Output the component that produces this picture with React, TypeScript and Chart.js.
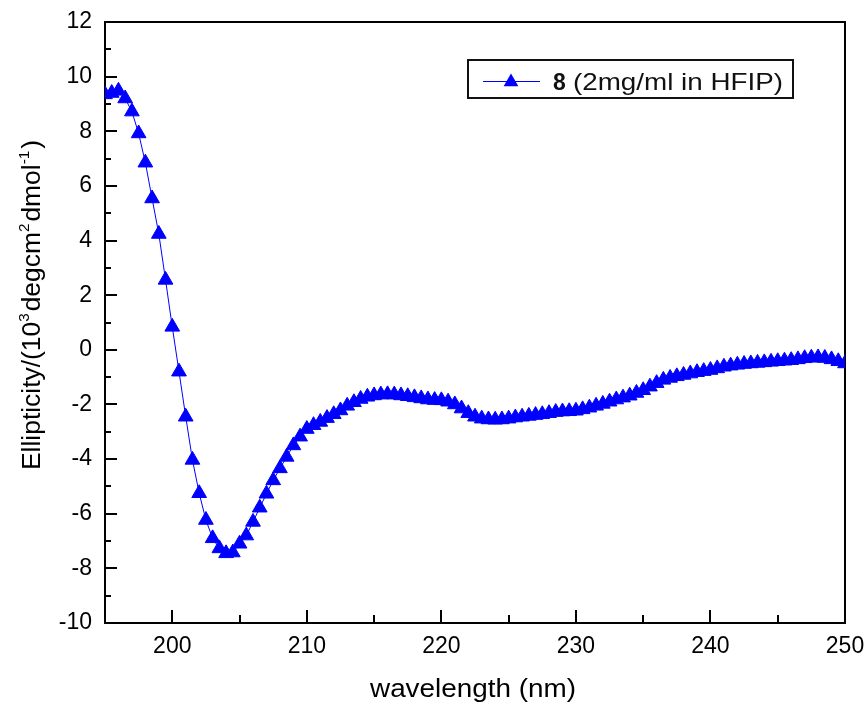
import React, { useEffect, useRef } from 'react';
import { Chart, registerables } from 'chart.js';

Chart.register(...registerables);

// ---------- data ----------
const wavelengths = [
  195, 195.5, 196, 196.5, 197, 197.5, 198, 198.5, 199, 199.5,
  200, 200.5, 201, 201.5, 202, 202.5, 203, 203.5, 204, 204.5,
  205, 205.5, 206, 206.5, 207, 207.5, 208, 208.5, 209, 209.5,
  210, 210.5, 211, 211.5, 212, 212.5, 213, 213.5, 214, 214.5,
  215, 215.5, 216, 216.5, 217, 217.5, 218, 218.5, 219, 219.5,
  220, 220.5, 221, 221.5, 222, 222.5, 223, 223.5, 224, 224.5,
  225, 225.5, 226, 226.5, 227, 227.5, 228, 228.5, 229, 229.5,
  230, 230.5, 231, 231.5, 232, 232.5, 233, 233.5, 234, 234.5,
  235, 235.5, 236, 236.5, 237, 237.5, 238, 238.5, 239, 239.5,
  240, 240.5, 241, 241.5, 242, 242.5, 243, 243.5, 244, 244.5,
  245, 245.5, 246, 246.5, 247, 247.5, 248, 248.5, 249, 249.5,
  250,
];

const ellipticity = [
  9.35, 9.40, 9.48, 9.20, 8.72, 7.92, 6.85, 5.54, 4.24, 2.56,
  0.84, -0.80, -2.45, -4.03, -5.25, -6.23, -6.90, -7.27, -7.45, -7.42,
  -7.10, -6.80, -6.30, -5.78, -5.27, -4.78, -4.34, -3.92, -3.50, -3.18,
  -2.90, -2.76, -2.64, -2.50, -2.36, -2.22, -2.05, -1.92, -1.80, -1.72,
  -1.67, -1.64, -1.63, -1.64, -1.67, -1.70, -1.74, -1.78, -1.82, -1.84,
  -1.85, -1.90, -2.00, -2.15, -2.32, -2.45, -2.52, -2.55, -2.56, -2.55,
  -2.52, -2.48, -2.45, -2.42, -2.39, -2.36, -2.32, -2.28, -2.26, -2.25,
  -2.23, -2.18, -2.12, -2.05, -1.98, -1.90, -1.82, -1.75, -1.68, -1.58,
  -1.48, -1.35, -1.22, -1.10, -1.03, -0.97, -0.92, -0.87, -0.82, -0.78,
  -0.74, -0.68, -0.62, -0.58, -0.55, -0.52, -0.50, -0.48, -0.46, -0.44,
  -0.42, -0.40, -0.38, -0.35, -0.31, -0.29, -0.28, -0.30, -0.35, -0.42,
  -0.50,
];

const xTickValues = [200, 210, 220, 230, 240, 250];
const xMinorTickValues = [195, 205, 215, 225, 235, 245];
const yTickValues = [-10, -8, -6, -4, -2, 0, 2, 4, 6, 8, 10, 12];
const yMinorTickValues = [-9, -7, -5, -3, -1, 1, 3, 5, 7, 9, 11];

const legendBold = '8';
const legendText = '(2mg/ml in HFIP)';
const xTitle = 'wavelength (nm)';
const yTitleParts: { t: string; sup: boolean }[] = [
  { t: 'Ellipticity/(10', sup: false },
  { t: '3', sup: true },
  { t: 'degcm', sup: false },
  { t: '2', sup: true },
  { t: 'dmol', sup: false },
  { t: '-1', sup: true },
  { t: ')', sup: false },
];

// ---------- style ----------
const FONT = '"Liberation Sans", Arial, Helvetica, sans-serif';
const BLUE = '#0000ff';

const framePlugin = {
  id: 'frame',
  beforeDatasetsDraw(chart: any) {
    const { ctx, chartArea } = chart;
    const xs = chart.scales.x;
    const ys = chart.scales.y;
    ctx.save();
    ctx.strokeStyle = '#000';
    ctx.lineWidth = 2;
    ctx.strokeRect(chartArea.left, chartArea.top, chartArea.right - chartArea.left, chartArea.bottom - chartArea.top);
    ctx.beginPath();
    const majX = 13, minX = 8, majY = 12, minY = 6;
    xTickValues.forEach((v) => {
      const px = Math.round(xs.getPixelForValue(v));
      ctx.moveTo(px, chartArea.bottom);
      ctx.lineTo(px, chartArea.bottom - majX);
    });
    xMinorTickValues.forEach((v) => {
      const px = Math.round(xs.getPixelForValue(v));
      ctx.moveTo(px, chartArea.bottom);
      ctx.lineTo(px, chartArea.bottom - minX);
    });
    yTickValues.forEach((v) => {
      const py = Math.round(ys.getPixelForValue(v));
      ctx.moveTo(chartArea.left, py);
      ctx.lineTo(chartArea.left + majY, py);
    });
    yMinorTickValues.forEach((v) => {
      const py = Math.round(ys.getPixelForValue(v));
      ctx.moveTo(chartArea.left, py);
      ctx.lineTo(chartArea.left + minY, py);
    });
    ctx.stroke();
    ctx.restore();
  },
  afterDraw(chart: any) {
    const { ctx, chartArea } = chart;
    ctx.save();
    ctx.fillStyle = '#000';
    // x title
    ctx.font = `26px ${FONT}`;
    ctx.textAlign = 'center';
    ctx.textBaseline = 'alphabetic';
    const cx = (chartArea.left + chartArea.right) / 2 - 2;
    const wX = ctx.measureText(xTitle).width;
    const sX = 206 / wX;
    ctx.save();
    ctx.translate(cx, 697);
    ctx.scale(sX, 1);
    ctx.fillText(xTitle, 0, 0);
    ctx.restore();

    // y title with superscripts
    const base = 26;
    const supSize = 15;
    ctx.save();
    ctx.translate(40, 305);
    ctx.rotate(-Math.PI / 2);
    ctx.textAlign = 'left';
    let total = 0;
    yTitleParts.forEach((p) => {
      ctx.font = `${p.sup ? supSize : base}px ${FONT}`;
      total += ctx.measureText(p.t).width + (p.sup ? 2 : 0);
    });
    const sY = 330 / total;
    ctx.scale(sY, 1);
    let x = -total / 2;
    yTitleParts.forEach((p) => {
      ctx.font = `${p.sup ? supSize : base}px ${FONT}`;
      ctx.fillText(p.t, x, p.sup ? -base * 0.42 : 0);
      x += ctx.measureText(p.t).width + (p.sup ? 2 : 0);
    });
    ctx.restore();

    // legend
    const lx = 468, ly = 60, lw = 325, lh = 38;
    ctx.fillStyle = '#fff';
    ctx.fillRect(lx, ly, lw, lh);
    ctx.strokeStyle = '#111';
    ctx.lineWidth = 2;
    ctx.strokeRect(lx, ly, lw, lh);
    const my = ly + 21;
    ctx.strokeStyle = BLUE;
    ctx.lineWidth = 1;
    ctx.beginPath();
    ctx.moveTo(483, my + 0.5);
    ctx.lineTo(540, my + 0.5);
    ctx.stroke();
    ctx.fillStyle = BLUE;
    ctx.beginPath();
    const r = 8.5;
    const tx = 511, ty = my + 1;
    ctx.moveTo(tx, ty - r);
    ctx.lineTo(tx + r * Math.sin((2 * Math.PI) / 3), ty - r * Math.cos((2 * Math.PI) / 3));
    ctx.lineTo(tx + r * Math.sin((4 * Math.PI) / 3), ty - r * Math.cos((4 * Math.PI) / 3));
    ctx.closePath();
    ctx.fill();
    ctx.fillStyle = '#111';
    ctx.textAlign = 'left';
    ctx.textBaseline = 'alphabetic';
    ctx.font = `bold 23px ${FONT}`;
    ctx.fillText(legendBold, 553, 90);
    ctx.font = `24px ${FONT}`;
    const wL = ctx.measureText(legendText).width;
    ctx.save();
    ctx.translate(573, 90);
    ctx.scale(210 / wL, 1);
    ctx.fillText(legendText, 0, 0);
    ctx.restore();
    ctx.restore();
  },
};

export default function App() {
  const ref = useRef<HTMLCanvasElement | null>(null);
  useEffect(() => {
    document.body.style.margin = '0';
    const canvas = ref.current;
    if (!canvas) return;
    const chart = new Chart(canvas, {
      type: 'line',
      data: {
        datasets: [
          {
            label: legendText,
            data: wavelengths.map((w, i) => ({ x: w, y: ellipticity[i] })),
            borderColor: BLUE,
            backgroundColor: BLUE,
            borderWidth: 1,
            pointStyle: 'triangle',
            pointRadius: 8.5,
            pointBorderWidth: 1,
            pointBorderColor: BLUE,
            pointBackgroundColor: BLUE,
            tension: 0,
          },
        ],
      },
      options: {
        animation: false,
        responsive: false,
        devicePixelRatio: 1,
        layout: { padding: { top: 22, right: 21, left: 0, bottom: 0 } },
        plugins: { legend: { display: false }, tooltip: { enabled: false } },
        scales: {
          x: {
            type: 'linear',
            min: 195,
            max: 250,
            grid: { display: false, drawTicks: false },
            border: { display: false },
            afterBuildTicks: (s: any) => {
              s.ticks = xTickValues.map((v) => ({ value: v }));
            },
            afterFit: (s: any) => {
              s.height = 79;
              s.paddingLeft = 0;
              s.paddingRight = 0;
            },
            ticks: {
              color: '#000',
              font: { family: FONT, size: 23 },
              padding: 10,
              maxRotation: 0,
              autoSkip: false,
              callback: (v: any) => String(v),
            },
          },
          y: {
            type: 'linear',
            min: -10,
            max: 12,
            grid: { display: false, drawTicks: false },
            border: { display: false },
            afterBuildTicks: (s: any) => {
              s.ticks = yTickValues.map((v) => ({ value: v }));
            },
            afterFit: (s: any) => {
              s.width = 105;
              s.paddingTop = 0;
              s.paddingBottom = 0;
            },
            ticks: {
              color: '#000',
              font: { family: FONT, size: 23 },
              padding: 13,
              autoSkip: false,
              callback: (v: any) => String(v),
            },
          },
        },
      },
      plugins: [framePlugin],
    });
    return () => chart.destroy();
  }, []);
  return (
    <div style={{ position: 'absolute', left: 0, top: 0, width: 866, height: 702, background: '#fff' }}>
      <canvas ref={ref} width={866} height={702} style={{ width: 866, height: 702 }} />
    </div>
  );
}
